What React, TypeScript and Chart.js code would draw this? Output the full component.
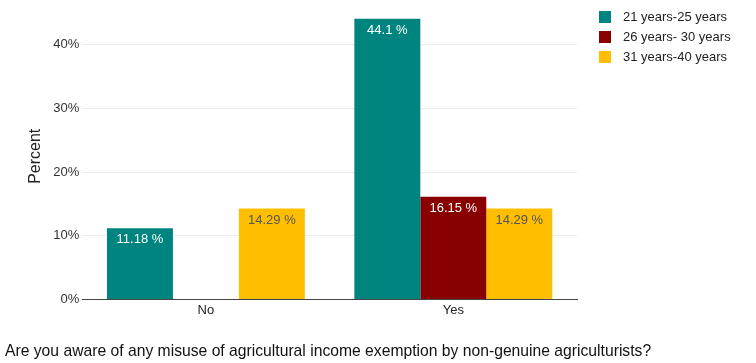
import React, { useEffect, useRef } from "react";
import { Chart, registerables } from "chart.js";

Chart.register(...registerables);

const categories = ["No", "Yes"];
const seriesNames = ["21 years-25 years", "26 years- 30 years", "31 years-40 years"];
const series2125 = [11.18, 44.1];
const series2630 = [null, 16.15];
const series3140 = [14.29, 14.29];
const seriesColors = ["#00847f", "#880000", "#ffbf00"];
const labelColors = ["#ffffff", "#ffffff", "#555555"];
const yTicks = [0, 10, 20, 30, 40];
const titleText = "Are you aware of any misuse of agricultural income exemption by non-genuine agriculturists?";

const FONT = "'Liberation Sans', Arial, sans-serif";

const labelPlugin = {
  id: "barLabels",
  afterDatasetsDraw(chart: any) {
    const ctx = chart.ctx;
    ctx.save();
    ctx.font = `13px ${FONT}`;
    ctx.textAlign = "center";
    ctx.textBaseline = "top";
    chart.data.datasets.forEach((ds: any, i: number) => {
      const meta = chart.getDatasetMeta(i);
      meta.data.forEach((bar: any, j: number) => {
        const v = ds.data[j];
        if (v === null || v === undefined) return;
        ctx.fillStyle = labelColors[i];
        ctx.fillText(`${v} %`, bar.x, bar.y + 5);
      });
    });
    ctx.restore();
  },
};

const legendPlugin = {
  id: "sideLegend",
  afterDraw(chart: any) {
    const ctx = chart.ctx;
    const x0 = chart.chartArea.right + 22;
    const y0 = 17;
    const step = 20;
    ctx.save();
    ctx.font = `13px ${FONT}`;
    ctx.textAlign = "left";
    ctx.textBaseline = "middle";
    chart.data.datasets.forEach((ds: any, i: number) => {
      const cy = y0 + i * step;
      ctx.fillStyle = ds.backgroundColor;
      ctx.fillRect(x0, cy - 6, 12, 12);
      ctx.fillStyle = "#222";
      ctx.fillText(ds.label, x0 + 24, cy);
    });
    ctx.restore();
  },
};

export default function App() {
  const ref = useRef<HTMLCanvasElement>(null);
  useEffect(() => {
    if (!ref.current) return;
    const data = [series2125, series2630, series3140];
    const chart = new Chart(ref.current, {
      type: "bar",
      data: {
        labels: categories,
        datasets: seriesNames.map((name, i) => ({
          label: name,
          data: data[i] as any,
          backgroundColor: seriesColors[i],
          borderWidth: 0,
          barPercentage: 1,
          categoryPercentage: 0.8,
          yAxisID: "y",
        })),
      },
      options: {
        responsive: false,
        animation: false,
        layout: { padding: { left: 5, top: 13, right: 0, bottom: 2 } },
        plugins: {
          legend: { display: false },
          title: {
            display: true,
            position: "bottom",
            align: "start",
            text: titleText,
            color: "#111",
            font: { family: FONT, size: 15.7, weight: "normal" },
            padding: { top: 21, bottom: 0 },
          },
          tooltip: { enabled: false },
        },
        scales: {
          x: {
            grid: { display: false, drawTicks: false },
            border: { display: true, color: "#444", width: 1 },
            ticks: { color: "#222", font: { family: FONT, size: 13 }, padding: 3 },
          },
          y: {
            min: 0,
            max: 45,
            afterBuildTicks: (scale: any) => {
              scale.ticks = yTicks.map((v) => ({ value: v }));
            },
            grid: { color: "#ebebeb", drawTicks: false },
            border: { display: false },
            ticks: {
              color: "#333",
              font: { family: FONT, size: 13 },
              padding: 3,
              callback: (v: any) => `${v}%`,
            },
            title: {
              display: true,
              text: "Percent",
              color: "#222",
              font: { family: FONT, size: 16 },
              padding: { top: 21, bottom: 5 },
            },
          },
          legendSpace: {
            type: "linear",
            position: "right",
            display: true,
            grid: { display: false, drawTicks: false },
            border: { display: false },
            ticks: { display: false },
            afterFit: (scale: any) => {
              scale.width = 179;
            },
          },
        },
      },
      plugins: [labelPlugin, legendPlugin],
    });
    return () => chart.destroy();
  }, []);
  return (
    <div style={{ position: "fixed", left: 0, top: 0, width: 756, height: 363, background: "#fff" }}>
      <canvas ref={ref} width={756} height={363} style={{ width: 756, height: 363 }} />
    </div>
  );
}
